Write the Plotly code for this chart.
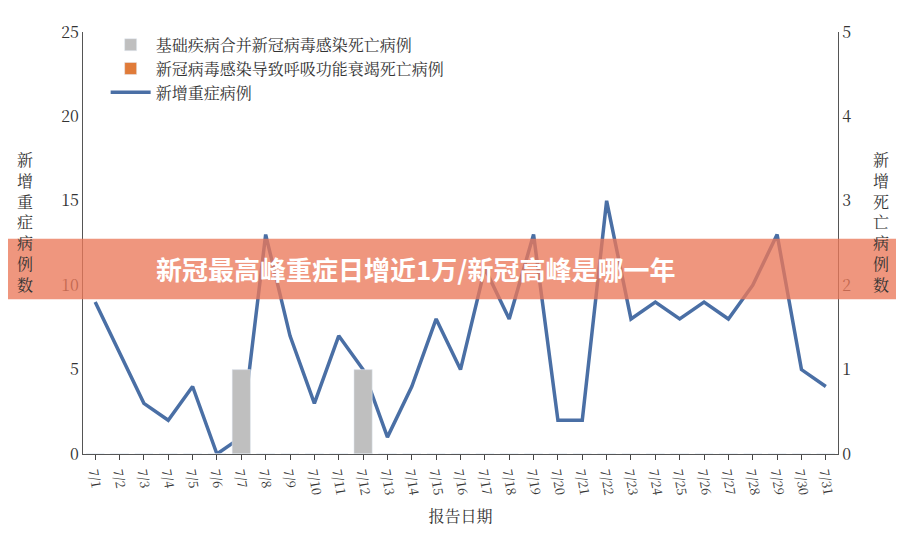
import plotly.graph_objects as go

# data
dates = [f"7/{d}" for d in range(1, 32)]
severe = [9, 6, 3, 2, 4, 0, 1, 13, 7, 3, 7, 5, 1, 4, 8, 5, 11, 8, 13, 2, 2, 15,
          8, 9, 8, 9, 8, 10, 13, 5, 4]
deaths_underlying = [0, 0, 0, 0, 0, 0, 1, 0, 0, 0, 0, 1, 0, 0, 0, 0, 0, 0, 0, 0,
                     0, 0, 0, 0, 0, 0, 0, 0, 0, 0, 0]
deaths_respiratory = [0] * 31

font_cjk = "Noto Serif CJK SC, Noto Sans CJK SC, serif"

fig = go.Figure()

fig.add_trace(go.Bar(x=dates, y=deaths_underlying, name="基础疾病合并新冠病毒感染死亡病例",
                     marker_color="#bfbfbf", yaxis="y2", width=0.75))
fig.add_trace(go.Bar(x=dates, y=deaths_respiratory, name="新冠病毒感染导致呼吸功能衰竭死亡病例",
                     marker_color="#e07b39", yaxis="y2", width=0.75))
fig.add_trace(go.Scatter(x=dates, y=severe, name="新增重症病例", mode="lines",
                         line=dict(color="#4a6fa5", width=3.5)))

fig.update_layout(
    width=904, height=534,
    margin=dict(l=75, r=74, t=21, b=88),
    plot_bgcolor="white", paper_bgcolor="white",
    font=dict(family=font_cjk, size=15, color="#333"),
    barmode="overlay",
    showlegend=True,
    legend=dict(x=0.03, y=1.01, xanchor="left", yanchor="top", bgcolor="rgba(0,0,0,0)",
                font=dict(size=16), itemwidth=40, traceorder="normal"),
    xaxis=dict(type="category", tickangle=80, showline=True, linecolor="#555",
               ticks="outside", tickfont=dict(size=13),
               title=dict(text="报告日期", font=dict(size=16))),
    yaxis=dict(range=[0, 25], dtick=5, showline=True, linecolor="#555", ticks="",
               showgrid=False, zeroline=False, tickfont=dict(size=16)),
    yaxis2=dict(range=[0, 5], dtick=1, overlaying="y", side="right", showline=True,
                linecolor="#555", showgrid=False, zeroline=False, tickfont=dict(size=16)),
)

fig.add_annotation(text="新<br>增<br>重<br>症<br>病<br>例<br>数", xref="paper", yref="paper",
                   x=-0.09, y=0.55, showarrow=False, font=dict(size=16))
fig.add_annotation(text="新<br>增<br>死<br>亡<br>病<br>例<br>数", xref="paper", yref="paper",
                   x=1.07, y=0.55, showarrow=False, font=dict(size=16))

# banner overlay
fig.add_shape(type="rect", xref="paper", yref="paper", x0=-0.11, x1=1.11,
              y0=0.367, y1=0.51, fillcolor="rgba(235,120,90,0.78)", line_width=0, layer="above")
fig.add_annotation(text="<b>新冠最高峰重症日增近1万/新冠高峰是哪一年</b>", xref="paper", yref="paper",
                   x=0.44, y=0.44, showarrow=False,
                   font=dict(size=26, color="white", family="Noto Sans CJK SC"))

fig.write_html("out.html")
